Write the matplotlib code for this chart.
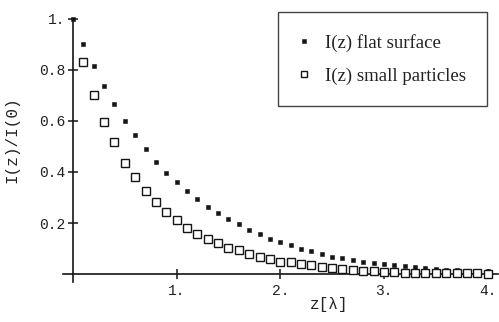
import matplotlib
matplotlib.use("Agg")
import matplotlib.pyplot as plt

# ---- data ----
z_flat = [0.0, 0.1, 0.2, 0.3, 0.4, 0.5, 0.6, 0.7, 0.8, 0.9, 1.0,
          1.1, 1.2, 1.3, 1.4, 1.5, 1.6, 1.7, 1.8, 1.9, 2.0,
          2.1, 2.2, 2.3, 2.4, 2.5, 2.6, 2.7, 2.8, 2.9, 3.0,
          3.1, 3.2, 3.3, 3.4, 3.5, 3.6, 3.7, 3.8, 3.9, 4.0]
i_flat = [1.0, 0.903, 0.817, 0.737, 0.665, 0.601, 0.544, 0.489, 0.440, 0.397, 0.360,
          0.324, 0.295, 0.264, 0.238, 0.216, 0.195, 0.173, 0.157, 0.138, 0.124,
          0.112, 0.100, 0.091, 0.078, 0.068, 0.063, 0.054, 0.047, 0.042, 0.038,
          0.035, 0.031, 0.029, 0.025, 0.021, 0.017, 0.015, 0.013, 0.011, 0.010]

z_part = [0.1, 0.2, 0.3, 0.4, 0.5, 0.6, 0.7, 0.8, 0.9, 1.0,
          1.1, 1.2, 1.3, 1.4, 1.5, 1.6, 1.7, 1.8, 1.9, 2.0,
          2.1, 2.2, 2.3, 2.4, 2.5, 2.6, 2.7, 2.8, 2.9, 3.0,
          3.1, 3.2, 3.3, 3.4, 3.5, 3.6, 3.7, 3.8, 3.9, 4.0]
i_part = [0.833, 0.700, 0.597, 0.518, 0.435, 0.379, 0.324, 0.282, 0.244, 0.212,
          0.180, 0.158, 0.137, 0.120, 0.103, 0.094, 0.077, 0.067, 0.060, 0.048,
          0.046, 0.038, 0.035, 0.029, 0.022, 0.020, 0.017, 0.013, 0.010, 0.008,
          0.007, 0.006, 0.005, 0.005, 0.004, 0.004, 0.003, 0.003, 0.003, 0.002]

x_ticks = [1, 2, 3, 4]
x_tick_labels = ["1.", "2.", "3.", "4."]
y_ticks = [0.2, 0.4, 0.6, 0.8, 1.0]
y_tick_labels = ["0.2", "0.4", "0.6", "0.8", "1."]

label_flat = "I(z) flat surface"
label_part = "I(z) small particles"
x_label = "z[\u03bb]"
y_label = "I(z)/I(0)"

# ---- figure ----
W, H = 499, 322
fig = plt.figure(figsize=(W / 100, H / 100), dpi=100)
ax = fig.add_axes([0, 0, 1, 1])
ax.set_position([62 / W, (H - 285) / H, (499 - 62) / W, (285 - 10) / H])
ax.set_xlim(-0.106, 4.11)
ax.set_ylim(-0.043, 1.035)
ax.patch.set_visible(False)

ink = "#151515"
ax.plot(z_flat, i_flat, linestyle="none", marker="s", markersize=2.8,
        markerfacecolor=ink, markeredgecolor=ink, markeredgewidth=0.4,
        label=label_flat, zorder=3)
ax.plot(z_part, i_part, linestyle="none", marker="s", markersize=5.6,
        markerfacecolor="white", markeredgecolor=ink, markeredgewidth=1.0,
        label=label_part, zorder=3)

for s in ["top", "right"]:
    ax.spines[s].set_visible(False)
ax.spines["left"].set_position(("data", 0))
ax.spines["bottom"].set_position(("data", 0))
ax.spines["left"].set_bounds(-0.03, 1.0)
ax.spines["bottom"].set_bounds(-0.1, 4.1)
for s in ["left", "bottom"]:
    ax.spines[s].set_linewidth(1.2)
    ax.spines[s].set_color(ink)

mono = "Liberation Mono"
ax.set_xticks(x_ticks)
ax.set_xticklabels(x_tick_labels, fontfamily=mono, fontsize=10.5, color="#222")
ax.set_yticks(y_ticks)
ax.set_yticklabels(y_tick_labels, fontfamily=mono, fontsize=10.5, color="#222")
ax.tick_params(axis="both", direction="inout", length=7, width=1.1, color=ink)
ax.tick_params(axis="x", pad=4)
ax.tick_params(axis="y", pad=2)

fig.text(329 / W, 1 - 305 / H, x_label, family=mono, fontsize=11.5,
         ha="center", va="center", color="#222")
fig.text(12 / W, 1 - 140 / H, y_label, family=mono, fontsize=11.5,
         rotation=90, ha="center", va="center", color="#222")

leg = ax.legend(loc="upper left",
                bbox_to_anchor=(278 / W, 1 - 12 / H),
                bbox_transform=fig.transFigure,
                prop={"family": "Liberation Serif", "size": 13.5},
                frameon=True, fancybox=False, shadow=False,
                borderpad=1.15, labelspacing=0.85, handlelength=0.5,
                handletextpad=0.85, borderaxespad=0.0, markerscale=0.8)
fr = leg.get_frame()
fr.set_edgecolor(ink)
fr.set_linewidth(1.0)
fr.set_facecolor("white")
for t in leg.get_texts():
    t.set_color("#222")

fig.savefig("out.png", dpi=100)
